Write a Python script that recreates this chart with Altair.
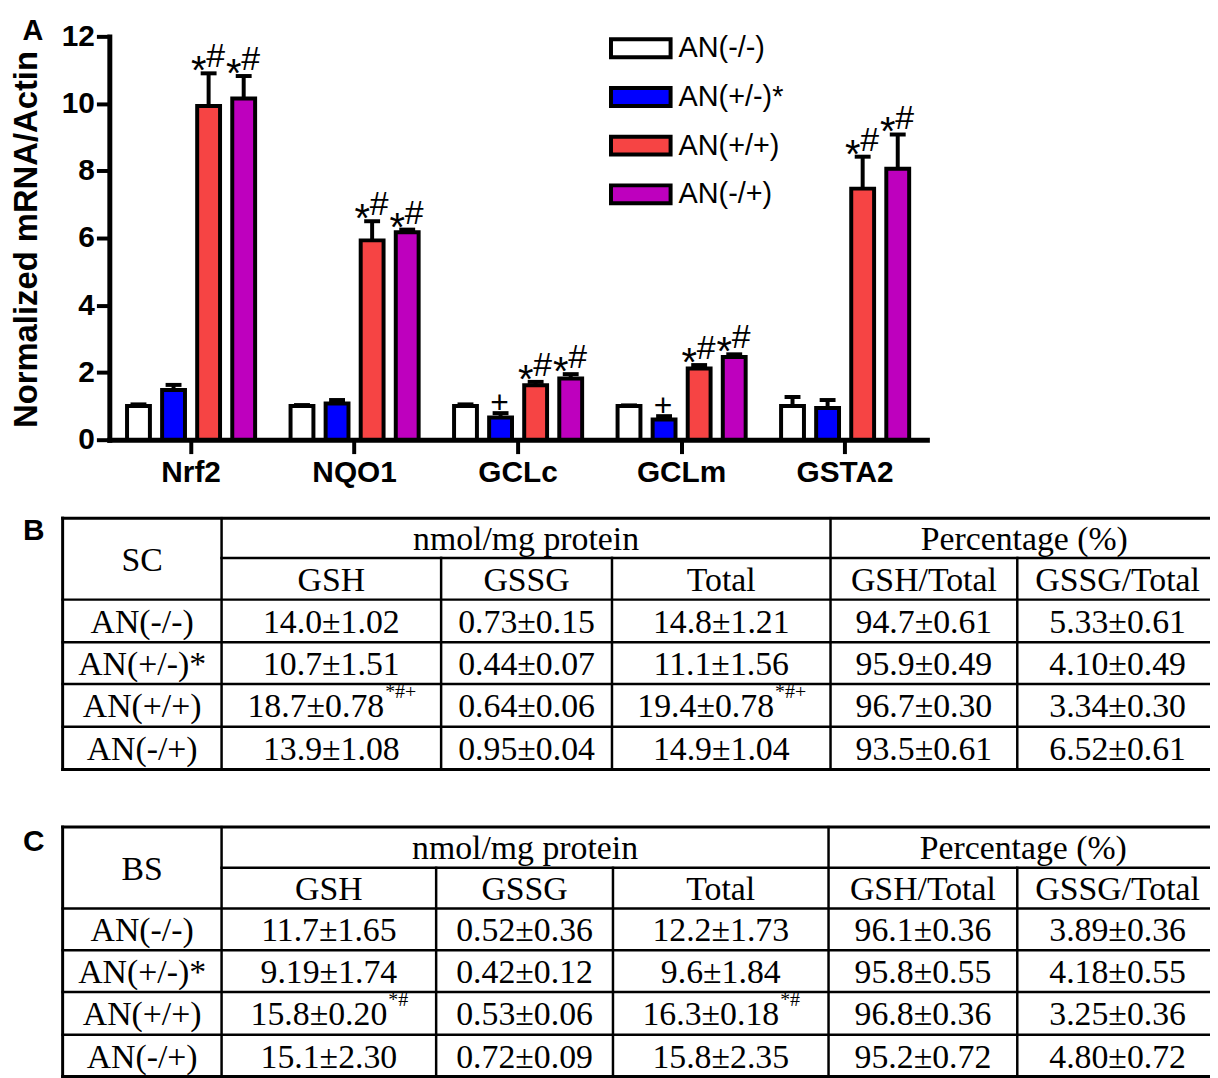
import altair as alt
import pandas as pd

SANS = "Liberation Sans"
SERIF = "Liberation Serif"

# ---------------- Panel A data ----------------
genes = ["Nrf2", "NQO1", "GCLc", "GCLm", "GSTA2"]
groups = ["AN(-/-)", "AN(+/-)*", "AN(+/+)", "AN(-/+)"]
group_colors = ["#FFFFFF", "#0000FF", "#F64444", "#BE00BE"]

mean_nn = [1.00, 1.00, 1.00, 1.00, 1.00]
mean_pn = [1.48, 1.08, 0.66, 0.60, 0.94]
mean_pp = [9.93, 5.93, 1.62, 2.12, 7.47]
mean_np = [10.15, 6.17, 1.82, 2.46, 8.06]

err_nn = [0.05, 0.03, 0.05, 0.02, 0.27]
err_pn = [0.15, 0.10, 0.13, 0.10, 0.24]
err_pp = [0.97, 0.57, 0.10, 0.10, 0.95]
err_np = [0.67, 0.08, 0.13, 0.08, 1.02]

sig_nn = ["", "", "", "", ""]
sig_pn = ["", "", "+", "+", ""]
sig_pp = ["*#", "*#", "*#", "*#", "*#"]
sig_np = ["*#", "*#", "*#", "*#", "*#"]

y_ticks = [0, 2, 4, 6, 8, 10, 12]

# ---------------- Panel B / C data ----------------
row_labels = ["AN(-/-)", "AN(+/-)*", "AN(+/+)", "AN(-/+)"]
sub_heads = ["GSH", "GSSG", "Total", "GSH/Total", "GSSG/Total"]

sc_gsh = ["14.0±1.02", "10.7±1.51", "18.7±0.78", "13.9±1.08"]
sc_gsh_sup = ["", "", "*#+", ""]
sc_gssg = ["0.73±0.15", "0.44±0.07", "0.64±0.06", "0.95±0.04"]
sc_total = ["14.8±1.21", "11.1±1.56", "19.4±0.78", "14.9±1.04"]
sc_total_sup = ["", "", "*#+", ""]
sc_gsh_pct = ["94.7±0.61", "95.9±0.49", "96.7±0.30", "93.5±0.61"]
sc_gssg_pct = ["5.33±0.61", "4.10±0.49", "3.34±0.30", "6.52±0.61"]

bs_gsh = ["11.7±1.65", "9.19±1.74", "15.8±0.20", "15.1±2.30"]
bs_gsh_sup = ["", "", "*#", ""]
bs_gssg = ["0.52±0.36", "0.42±0.12", "0.53±0.06", "0.72±0.09"]
bs_total = ["12.2±1.73", "9.6±1.84", "16.3±0.18", "15.8±2.35"]
bs_total_sup = ["", "", "*#", ""]
bs_gsh_pct = ["96.1±0.36", "95.8±0.55", "96.8±0.36", "95.2±0.72"]
bs_gssg_pct = ["3.89±0.36", "4.18±0.55", "3.25±0.36", "4.80±0.72"]

# ---------------- Layout (pixels) ----------------
W, H = 1210, 1070
X_RANGE = [102, 925]
Y_RANGE = [431, 25]
TB_COLS = [55, 215, 436, 608, 828, 1016, 1218]
TB_ROWS = [510, 550, 592, 635, 677, 720, 763]
TC_COLS = [55, 215, 431, 609, 826, 1016, 1218]
TC_ROWS = [821, 862, 903, 945, 987, 1030, 1072]
FS_TABLE = 34
FS_SUP = 20
TEXT_SHIFT = 2

# ---------------- Panel A chart ----------------
means = [mean_nn, mean_pn, mean_pp, mean_np]
errs = [err_nn, err_pn, err_pp, err_np]
sigs = [sig_nn, sig_pn, sig_pp, sig_np]
recs = []
for gi, g in enumerate(groups):
    for ki, gene in enumerate(genes):
        m = means[gi][ki]
        recs.append(dict(gene=gene, group=g, mean=m, upper=m + errs[gi][ki], sig=sigs[gi][ki]))
bar_df = pd.DataFrame(recs)

x_axis = alt.Axis(
    title=None, labelAngle=0, offset=-(H - Y_RANGE[0]), domainColor="black", domainWidth=5,
    domainCap="square", tickColor="black", tickWidth=4, tickSize=14, labelFont=SANS,
    labelFontSize=30, labelFontWeight="bold", labelColor="black", labelPadding=4,
    bandPosition=0.5, grid=False,
)
y_axis = alt.Axis(
    values=y_ticks, format="d", title="Normalized mRNA/Actin", offset=-X_RANGE[0],
    domainColor="black", domainWidth=5, domainCap="square", tickColor="black", tickWidth=4,
    tickSize=13, labelFont=SANS, labelFontSize=30, labelFontWeight="bold", labelColor="black",
    labelPadding=2, grid=False, titleFont=SANS, titleFontSize=33, titleFontWeight="bold",
    titleColor="black", titleX=-83, titleY=229, titleAngle=270, titleBaseline="middle",
    titleAlign="center",
)

x_enc = alt.X("gene:N", sort=genes,
              scale=alt.Scale(range=X_RANGE, paddingInner=0.142, paddingOuter=0.071),
              axis=x_axis)
xo_enc = alt.XOffset("group:N", sort=groups,
                     scale=alt.Scale(paddingInner=0.348, paddingOuter=0.174))
y_enc = alt.Y("mean:Q", scale=alt.Scale(domain=[0, 12], range=Y_RANGE, nice=False), axis=y_axis)

legend = alt.Legend(
    title=None, orient="none", legendX=620, legendY=20, direction="vertical",
    symbolType="M-2,-0.6H2V0.6H-2Z", symbolSize=900, symbolStrokeColor="black",
    symbolStrokeWidth=4, symbolOpacity=1, labelFont=SANS, labelFontSize=29,
    labelColor="black", labelOffset=21, rowPadding=15, padding=0, labelLimit=300,
)

base = alt.Chart(bar_df)
bars = base.mark_bar(stroke="black", strokeWidth=4).encode(
    x=x_enc, xOffset=xo_enc, y=y_enc,
    fill=alt.Fill("group:N", sort=groups, scale=alt.Scale(domain=groups, range=group_colors),
                  legend=legend),
)
xe = alt.X("gene:N", sort=genes)
xoe = alt.XOffset("group:N", sort=groups)
err_rule = base.mark_rule(color="black", strokeWidth=4).encode(
    x=xe, xOffset=xoe, y="mean:Q", y2="upper:Q")
caps = base.mark_tick(color="black", size=16, thickness=4, opacity=1).encode(
    x=xe, xOffset=xoe, y="upper:Q")
star = base.transform_filter("indexof(datum.sig, '*') >= 0").mark_text(
    text="*", font=SANS, fontSize=40, dx=-10, dy=11, baseline="alphabetic", color="black"
).encode(x=xe, xOffset=xoe, y="upper:Q")
hashm = base.transform_filter("indexof(datum.sig, '#') >= 0").mark_text(
    text="#", font=SANS, fontSize=34, dx=7, dy=-6, baseline="alphabetic", color="black"
).encode(x=xe, xOffset=xoe, y="upper:Q")
plus = base.transform_filter("datum.sig == '+'").mark_text(
    text="+", font=SANS, fontSize=32, dx=-1, dy=0, baseline="alphabetic", color="black"
).encode(x=xe, xOffset=xoe, y="upper:Q")

panel_a = alt.layer(bars, err_rule, caps, star, hashm, plus)

# ---------------- Tables ----------------
CW = {".": 0.25, "±": 0.549, "*": 0.5, "#": 0.5, "+": 0.564}


def text_w(s, fs):
    return sum(CW.get(c, 0.5) for c in s) * fs


def build_table(corner, cols, rws, col_vals, col_sups):
    texts, sups, lines = [], [], []

    def cx(a, b):
        return (cols[a] + cols[b]) / 2

    def cy(a, b):
        return (rws[a] + rws[b]) / 2 + TEXT_SHIFT

    texts.append(dict(x=cx(0, 1), y=cy(0, 2), t=corner))
    texts.append(dict(x=cx(1, 4), y=cy(0, 1), t="nmol/mg protein"))
    texts.append(dict(x=cx(4, 6), y=cy(0, 1), t="Percentage (%)"))
    for j, h in enumerate(sub_heads):
        texts.append(dict(x=cx(j + 1, j + 2), y=cy(1, 2), t=h))
    for i, lab in enumerate(row_labels):
        yc = cy(i + 2, i + 3)
        texts.append(dict(x=cx(0, 1), y=yc, t=lab))
        for j, vals in enumerate(col_vals):
            s = col_sups[j][i]
            xc = cx(j + 1, j + 2)
            if s:
                mw = text_w(vals[i], FS_TABLE)
                sw = text_w(s, FS_SUP)
                start = xc - (mw + sw) / 2
                texts.append(dict(x=start + mw / 2, y=yc, t=vals[i]))
                sups.append(dict(x=start + mw + 1, y=yc - 9, t=s))
            else:
                texts.append(dict(x=xc, y=yc, t=vals[i]))
    # grid lines
    for r in [0, 2, 3, 4, 5, 6]:
        lines.append(dict(x=cols[0], x2=cols[6], y=rws[r], y2=rws[r], w=3 if r in (0, 6) else 2.5))
    lines.append(dict(x=cols[1], x2=cols[6], y=rws[1], y2=rws[1], w=2.5))
    for c in [0, 1, 4, 6]:
        lines.append(dict(x=cols[c], x2=cols[c], y=rws[0], y2=rws[6], w=3 if c == 0 else 2.5))
    for c in [2, 3, 5]:
        lines.append(dict(x=cols[c], x2=cols[c], y=rws[1], y2=rws[6], w=2.5))
    return texts, sups, lines


tb = build_table("SC", TB_COLS, TB_ROWS,
                 [sc_gsh, sc_gssg, sc_total, sc_gsh_pct, sc_gssg_pct],
                 [sc_gsh_sup, [""] * 4, sc_total_sup, [""] * 4, [""] * 4])
tc = build_table("BS", TC_COLS, TC_ROWS,
                 [bs_gsh, bs_gssg, bs_total, bs_gsh_pct, bs_gssg_pct],
                 [bs_gsh_sup, [""] * 4, bs_total_sup, [""] * 4, [""] * 4])

text_df = pd.DataFrame(tb[0] + tc[0])
sup_df = pd.DataFrame(tb[1] + tc[1])
line_df = pd.DataFrame(tb[2] + tc[2])
panel_df = pd.DataFrame([
    dict(x=25, y=29, t="A", s=29),
    dict(x=26, y=532, t="B", s=30),
    dict(x=26, y=845, t="C", s=30),
])

px = alt.Scale(domain=[0, W], range=[0, W], zero=False, nice=False)
py = alt.Scale(domain=[0, H], range=[0, H], zero=False, nice=False)

t_lines = alt.Chart(line_df).mark_rule(color="black", strokeCap="square").encode(
    x=alt.X("x:Q", scale=px, axis=None), x2="x2:Q",
    y=alt.Y("y:Q", scale=py, axis=None), y2="y2:Q",
    strokeWidth=alt.StrokeWidth("w:Q", scale=None, legend=None),
)
t_text = alt.Chart(text_df).mark_text(
    font=SERIF, fontSize=FS_TABLE, color="black", baseline="middle", align="center"
).encode(x=alt.X("x:Q", scale=px, axis=None), y=alt.Y("y:Q", scale=py, axis=None), text="t:N")
t_sup = alt.Chart(sup_df).mark_text(
    font=SERIF, fontSize=FS_SUP, color="black", baseline="alphabetic", align="left"
).encode(x=alt.X("x:Q", scale=px, axis=None), y=alt.Y("y:Q", scale=py, axis=None), text="t:N")
t_panel = alt.Chart(panel_df).mark_text(
    font=SANS, fontWeight="bold", color="black", baseline="alphabetic", align="center"
).encode(x=alt.X("x:Q", scale=px, axis=None), y=alt.Y("y:Q", scale=py, axis=None), text="t:N",
         size=alt.Size("s:Q", scale=None, legend=None))

tables = alt.layer(t_lines, t_text, t_sup, t_panel)

chart = alt.layer(panel_a, tables).resolve_scale(
    x="independent", y="independent"
).properties(
    width=W, height=H, autosize=alt.AutoSizeParams(type="none"), padding=0,
    background="white",
).configure_view(stroke=None)

chart.save("out.html", embed_options={"renderer": "svg", "actions": False})
